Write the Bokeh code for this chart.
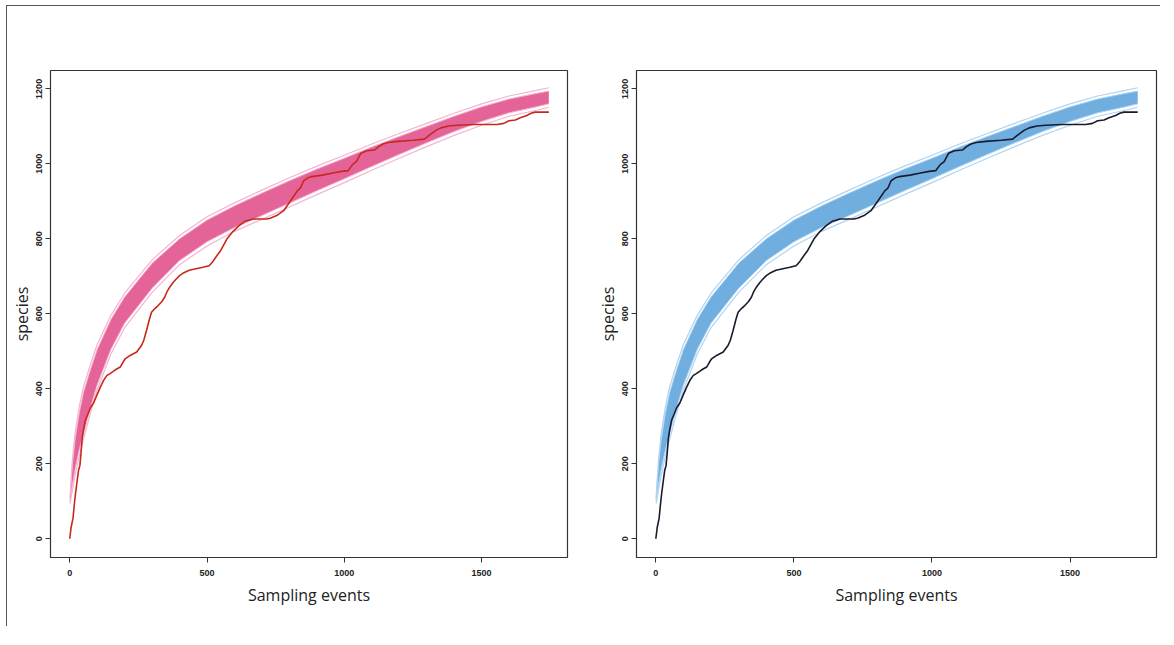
from bokeh.plotting import figure
from bokeh.layouts import row
from bokeh.models import Range1d, FixedTicker
from bokeh.embed import file_html
from bokeh.resources import INLINE

# ---- data ----
# observed accumulation curve (sampling events, species)
obs_x = [0, 5, 12, 16, 21, 28, 32, 37, 41, 45, 49, 57, 65, 76, 87, 100, 112, 123, 135, 148,
         165, 184, 195, 202, 220, 244, 262, 270, 280, 290, 298, 310, 322, 335, 346, 355, 364,
         376, 388, 400, 412, 435, 460, 485, 508, 520, 532, 550, 573, 595, 617, 640, 667, 717,
         730, 754, 779, 804, 829, 840, 852, 866, 882, 920, 954, 990, 1014, 1030, 1044, 1060,
         1081, 1111, 1125, 1141, 1160, 1195, 1250, 1292, 1316, 1335, 1352, 1380, 1412, 1472,
         1557, 1581, 1600, 1623, 1641, 1665, 1680, 1695, 1745]
obs_y = [0, 30, 55, 86, 120, 160, 182, 195, 227, 265, 285, 316, 330, 350, 362, 385, 405, 422, 435, 441,
         450, 458, 472, 480, 489, 498, 516, 530, 556, 585, 604, 614, 622, 632, 644, 660, 671,
         683, 693, 702, 708, 716, 720, 724, 728, 738, 751, 769, 800, 820, 835, 847, 853, 853,
         855, 862, 875, 901, 928, 935, 955, 962, 966, 970, 975, 980, 982, 998, 1006, 1028,
         1035, 1037, 1046, 1053, 1057, 1060, 1063, 1066, 1080, 1090, 1096, 1101, 1103, 1105,
         1105, 1108, 1115, 1117, 1123, 1129, 1135, 1138, 1138]

# envelope of the simulated curves
band_x = [1, 5, 10, 20, 35, 50, 75, 100, 150, 200, 300, 400, 500, 600, 700, 800, 900, 1000,
          1100, 1200, 1300, 1400, 1500, 1600, 1700, 1745]
band_upper = [104, 150, 200, 268, 337, 390, 450, 505, 585, 645, 735, 800, 850, 888, 922, 955, 986,
              1015, 1045, 1073, 1100, 1127, 1152, 1173, 1188, 1194]
band_lower = [98, 120, 145, 187, 238, 280, 348, 410, 505, 575, 668, 742, 792, 830, 862, 895, 928,
              960, 993, 1025, 1056, 1086, 1113, 1136, 1152, 1160]
outer_upper = [108, 160, 214, 284, 353, 405, 464, 518, 596, 655, 744, 809, 859, 896, 930, 963, 994,
               1023, 1053, 1081, 1108, 1135, 1160, 1181, 1196, 1203]
outer_lower = [94, 110, 131, 171, 222, 265, 334, 397, 493, 563, 657, 731, 781, 820, 852, 885, 918,
               950, 983, 1015, 1046, 1076, 1103, 1127, 1143, 1151]

x_ticks = [0, 500, 1000, 1500]
y_ticks = [0, 200, 400, 600, 800, 1000, 1200]
x_title = "Sampling events"
y_title = "species"

FRAME_W = 521
FRAME_H = 487
TOP = 64
HEIGHT = 620


def panel(core, light, line_color, border_left, border_right):
    p = figure(width=border_left + FRAME_W + border_right, height=HEIGHT,
               x_range=Range1d(-70, 1813), y_range=Range1d(-50, 1249),
               output_backend="svg", toolbar_location=None,
               min_border_left=border_left, min_border_right=border_right,
               min_border_top=TOP, min_border_bottom=HEIGHT - TOP - FRAME_H)
    p.grid.visible = False
    p.outline_line_color = "#333333"
    p.outline_line_width = 1.2
    p.background_fill_color = "white"
    p.border_fill_color = "white"

    p.varea(x=band_x, y1=band_lower, y2=band_upper, fill_color=core, fill_alpha=1.0)
    p.line(band_x, outer_upper, line_color=light, line_width=1.2)
    p.line(band_x, outer_lower, line_color=light, line_width=1.2)
    p.line(band_x, band_upper, line_color=light, line_width=1.0)
    p.line(band_x, band_lower, line_color=light, line_width=1.0)
    p.line(obs_x, obs_y, line_color=line_color, line_width=1.6)

    for ax in (p.xaxis[0], p.yaxis[0]):
        ax.axis_line_color = None
        ax.major_tick_line_color = "#333333"
        ax.major_tick_out = 5
        ax.major_tick_in = 0
        ax.minor_tick_line_color = None
        ax.major_label_text_font = "Liberation Sans"
        ax.major_label_text_font_size = "9px"
        ax.major_label_text_font_style = "bold"
        ax.major_label_text_color = "#222222"
        ax.axis_label_text_font = "Open Sans"
        ax.axis_label_text_font_size = "16px"
        ax.axis_label_text_font_style = "normal"
        ax.axis_label_text_color = "#222222"
    p.xaxis.ticker = FixedTicker(ticks=x_ticks)
    p.yaxis.ticker = FixedTicker(ticks=y_ticks)
    p.xaxis.axis_label = x_title
    p.yaxis.axis_label = y_title
    p.xaxis.major_label_standoff = 7
    p.xaxis.axis_label_standoff = 5
    p.yaxis.major_label_standoff = 3
    p.yaxis.axis_label_standoff = 1
    p.yaxis.major_label_orientation = "vertical"
    return p


p1 = panel("#E4649A", "#F5B3CF", "#C8281A", 39, 26)
p2 = panel("#6FAEDF", "#AFD4F1", "#1A1A2E", 42, 4)

layout = row(p1, p2, styles={"border-top": "1px solid #555555",
                             "border-left": "1px solid #555555",
                             "margin-top": "5px", "margin-left": "6px"})

open("out.html", "w").write(file_html(layout, INLINE))
